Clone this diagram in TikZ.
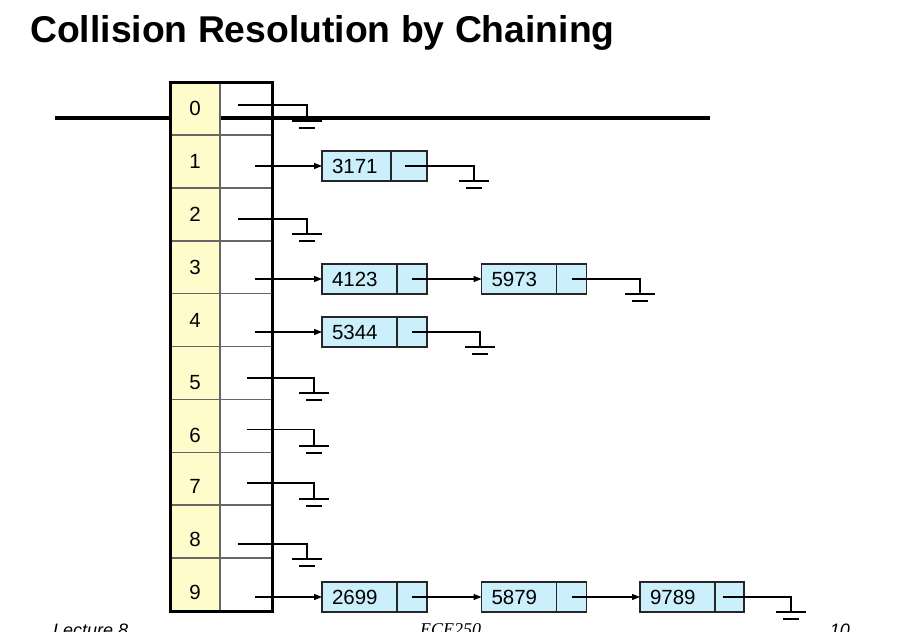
\documentclass[tikz,border=0pt]{standalone}
\usepackage{fontspec}
\setmainfont{Liberation Sans}
\newfontfamily\timesfont{Liberation Serif}
\usetikzlibrary{arrows.meta,positioning}

\begin{document}
\begin{tikzpicture}[x=1pt,y=-1pt,
  keycell/.style={draw=black!60,line width=1.6pt,fill=yellow!20,minimum width=50pt,minimum height=52.9pt,inner sep=0pt,outer sep=0pt,font=\fontsize{20.5}{24}\selectfont},
  linkcell/.style={draw=black!60,line width=1.6pt,minimum width=52pt,minimum height=52.9pt,inner sep=0pt,outer sep=0pt},
  datacell/.style={draw=black!85,line width=1.1pt,fill=cyan!20,minimum height=30pt,text width=55pt,inner xsep=10pt,inner ysep=0pt,outer sep=0pt,align=left,font=\fontsize{20.5}{24}\selectfont},
  nextcell/.style={draw=black!85,line width=1.1pt,fill=cyan!20,minimum width=30pt,minimum height=30pt,inner sep=0pt,outer sep=0pt},
  ptr/.style={line width=1.1pt,-{Triangle[length=8pt,width=6pt]}},
  nil/.style={line width=1.1pt},
  gnd/.pic={\draw[line width=1.1pt] (-15,0) -- (15,0) (-8,7) -- (8,7);}]
\useasboundingbox (0,0) rectangle (900,632);

\node[anchor=base west,inner sep=0pt,font=\bfseries\fontsize{37.3}{40}\selectfont] (title) at (30,42) {Collision Resolution by Chaining};

\draw[line width=4pt] (55,118) -- (710,118);

% hash table
\foreach \i/\dy in {0/0,1/0,2/0,3/0,4/0,5/9,6/9,7/8,8/8,9/8} {
  \node[keycell] (k\i) at (195,{108.45+52.9*\i}) {\raisebox{-\dy pt}[\height][0pt]{\i}};
  \node[linkcell] (p\i) at (246,{108.45+52.9*\i}) {};
}
\draw[line width=3pt] (k0.north west) rectangle (p9.south east);

% chains
\node[datacell,text width=49pt] (d3171) at (356.5,166) {3171};
\node[nextcell,minimum width=36pt,right=0pt of d3171] (n3171) {};
\node[datacell] (d4123) at (359.5,279) {4123};
\node[nextcell,right=0pt of d4123] (n4123) {};
\node[datacell] (d5973) at (519,279) {5973};
\node[nextcell,right=0pt of d5973] (n5973) {};
\node[datacell] (d5344) at (359.5,332) {5344};
\node[nextcell,right=0pt of d5344] (n5344) {};
\node[datacell] (d2699) at (359.5,597) {2699};
\node[nextcell,right=0pt of d2699] (n2699) {};
\node[datacell] (d5879) at (519,597) {5879};
\node[nextcell,right=0pt of d5879] (n5879) {};
\node[datacell] (d9789) at (677.5,597) {9789};
\node[nextcell,minimum width=29pt,right=0pt of d9789] (n9789) {};

\foreach \i/\d in {1/d3171,3/d4123,4/d5344,9/d2699}
  \draw[ptr] ([xshift=9pt]\d.west -| p\i.center) -- (\d.west);
\draw[ptr] (n4123.center) -- (d5973.west);
\draw[ptr] (n2699.center) -- (d5879.west);
\draw[ptr] (n5879.center) -- (d9789.west);

% null pointers
\foreach \i/\dx/\dy/\gx/\gy in {0/-8/-3.45/307/121,2/-8/4.75/307/234,5/1/5/314/393,6/1/4/314/446,7/1/4.25/314/499,8/-8/12.35/307/559} {
  \coordinate (g\i) at (\gx,\gy);
  \draw[nil] ([shift={(\dx,\dy)}]p\i.center) -| (g\i);
  \pic at (g\i) {gnd};
}
\coordinate (g3171) at (474,181);
\coordinate (g5973) at (640,294);
\coordinate (g5344) at (480,347);
\coordinate (g9789) at (791,612);
\draw[nil] ([xshift=-4pt]n3171.center) -| (g3171);
\draw[nil] (n5973.center) -| (g5973);
\draw[nil] (n5344.center) -| (g5344);
\draw[nil] ([xshift=-7pt]n9789.center) -| (g9789);
\foreach \g in {g3171,g5973,g5344,g9789}
  \pic at (\g) {gnd};

% footer
\node[anchor=base west,inner sep=0pt,font=\itshape\fontsize{18}{20}\selectfont] (lecture) at (53,636) {Lecture 8};
\node[anchor=base west,inner sep=0pt,font=\timesfont\itshape\fontsize{18}{20}\selectfont] (course) at (420,635) {ECE250};
\node[anchor=base east,inner sep=0pt,font=\itshape\fontsize{18}{20}\selectfont] (page) at (850,636) {10};
\end{tikzpicture}
\end{document}
